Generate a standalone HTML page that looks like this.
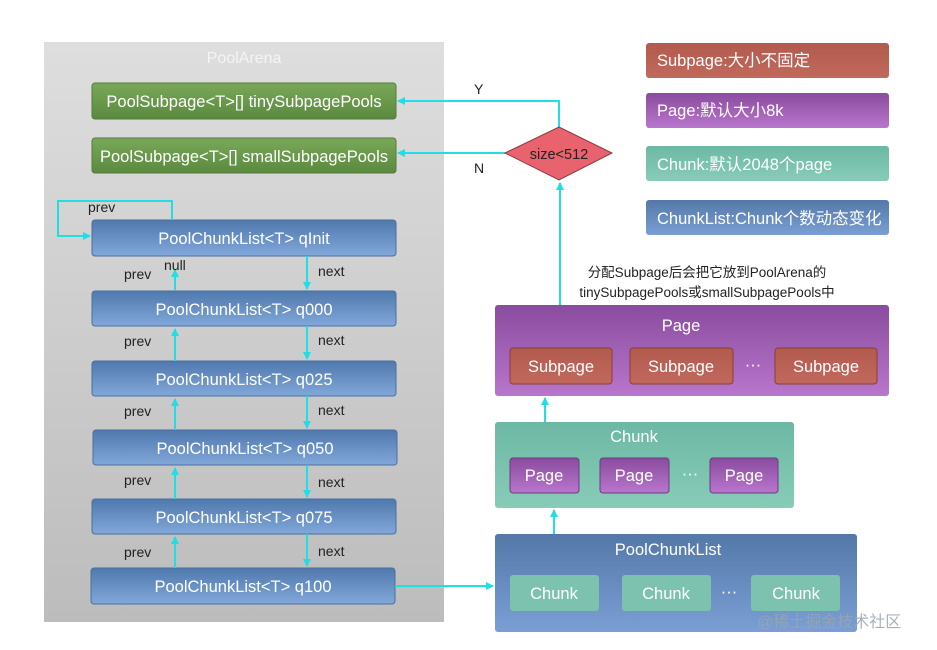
<!DOCTYPE html>
<html><head><meta charset="utf-8"><style>
html,body{margin:0;padding:0;background:#fff;width:937px;height:650px;overflow:hidden}
svg text{font-family:"Liberation Sans","Noto Sans CJK SC",sans-serif}
</style></head><body>
<svg width="937" height="650" viewBox="0 0 937 650" xmlns="http://www.w3.org/2000/svg">
<defs>
<linearGradient id="gray" x1="0" y1="0" x2="0" y2="1"><stop offset="0" stop-color="#dedede"/><stop offset="1" stop-color="#bcbcbc"/></linearGradient>
<linearGradient id="green" x1="0" y1="0" x2="0" y2="1"><stop offset="0" stop-color="#7aa85a"/><stop offset="1" stop-color="#5a8a3e"/></linearGradient>
<linearGradient id="blue" x1="0" y1="0" x2="0" y2="1"><stop offset="0" stop-color="#4f78ad"/><stop offset="1" stop-color="#82a8da"/></linearGradient>
<linearGradient id="red" x1="0" y1="0" x2="0" y2="1"><stop offset="0" stop-color="#b25a4e"/><stop offset="1" stop-color="#c0695c"/></linearGradient>
<linearGradient id="purple" x1="0" y1="0" x2="0" y2="1"><stop offset="0" stop-color="#8a4c9e"/><stop offset="1" stop-color="#b876cc"/></linearGradient>
<linearGradient id="teal" x1="0" y1="0" x2="0" y2="1"><stop offset="0" stop-color="#6cb8a4"/><stop offset="1" stop-color="#88ccb8"/></linearGradient>
<linearGradient id="bigblue" x1="0" y1="0" x2="0" y2="1"><stop offset="0" stop-color="#5378a8"/><stop offset="1" stop-color="#7b9fd4"/></linearGradient>
<marker id="ah" markerWidth="8" markerHeight="8" refX="7" refY="4" orient="auto" markerUnits="userSpaceOnUse"><path d="M0,0 L8,4 L0,8 z" fill="#22dde4"/></marker>
</defs>
<rect x="44" y="42" width="400" height="580" fill="url(#gray)"/>
<text x="244" y="63" font-size="16" fill="#f4f4f4" text-anchor="middle">PoolArena</text>
<g font-size="16.5" fill="#fff" text-anchor="middle">
<rect x="92" y="83" width="304" height="36" rx="3" fill="url(#green)" stroke="#567a3c"/>
<text x="244" y="107">PoolSubpage&lt;T&gt;[] tinySubpagePools</text>
<rect x="92" y="138" width="304" height="35" rx="3" fill="url(#green)" stroke="#567a3c"/>
<text x="244" y="162">PoolSubpage&lt;T&gt;[] smallSubpagePools</text>
<g>
<rect x="92" y="220" width="304" height="36" rx="3" fill="url(#blue)" stroke="#4b6fa0"/><text x="244" y="244">PoolChunkList&lt;T&gt; qInit</text>
<rect x="92" y="291" width="304" height="35" rx="3" fill="url(#blue)" stroke="#4b6fa0"/><text x="244" y="315">PoolChunkList&lt;T&gt; q000</text>
<rect x="92" y="361" width="304" height="35" rx="3" fill="url(#blue)" stroke="#4b6fa0"/><text x="244" y="385">PoolChunkList&lt;T&gt; q025</text>
<rect x="93" y="430" width="304" height="35" rx="3" fill="url(#blue)" stroke="#4b6fa0"/><text x="245" y="454">PoolChunkList&lt;T&gt; q050</text>
<rect x="92" y="499" width="304" height="35" rx="3" fill="url(#blue)" stroke="#4b6fa0"/><text x="244" y="523">PoolChunkList&lt;T&gt; q075</text>
<rect x="91" y="568" width="304" height="36" rx="3" fill="url(#blue)" stroke="#4b6fa0"/><text x="243" y="592">PoolChunkList&lt;T&gt; q100</text>
</g>
</g>
<g stroke="#22dde4" stroke-width="2" fill="none">
<path d="M172,220 V201 H58 V236 H90" marker-end="url(#ah)"/>
<path d="M175,290 V270" marker-end="url(#ah)"/>
<path d="M175,361 V329" marker-end="url(#ah)"/>
<path d="M175,430 V399" marker-end="url(#ah)"/>
<path d="M175,499 V468" marker-end="url(#ah)"/>
<path d="M175,568 V537" marker-end="url(#ah)"/>
<path d="M307,256 V289" marker-end="url(#ah)"/>
<path d="M307,326 V359" marker-end="url(#ah)"/>
<path d="M307,396 V428" marker-end="url(#ah)"/>
<path d="M307,465 V497" marker-end="url(#ah)"/>
<path d="M307,534 V566" marker-end="url(#ah)"/>
<path d="M395,586 H493" marker-end="url(#ah)"/>
<path d="M559,127 V101 H398" marker-end="url(#ah)"/>
<path d="M505,153 H398" marker-end="url(#ah)"/>
<path d="M560,348 V183" marker-end="url(#ah)"/>
<path d="M545,458 V398" marker-end="url(#ah)"/>
<path d="M554,575 V510" marker-end="url(#ah)"/>
</g>
<g font-size="14" fill="#222">
<text x="88" y="212">prev</text>
<text x="124" y="279">prev</text><text x="164" y="270">null</text><text x="318" y="276">next</text>
<text x="124" y="346">prev</text><text x="318" y="345">next</text>
<text x="124" y="416">prev</text><text x="318" y="415">next</text>
<text x="124" y="485">prev</text><text x="318" y="487">next</text>
<text x="124" y="557">prev</text><text x="318" y="556">next</text>
<text x="474" y="94">Y</text><text x="474" y="173">N</text>
</g>
<polygon points="505,153 559,127 612,153 559,180" fill="#e8636e" stroke="#8a3a40"/>
<text x="559" y="159" font-size="14.5" fill="#222" text-anchor="middle">size&lt;512</text>
<g font-size="16.5" fill="#fff">
<rect x="646" y="43" width="243" height="35" rx="3" fill="url(#red)"/><text x="657" y="66">Subpage:大小不固定</text>
<rect x="646" y="93" width="243" height="35" rx="3" fill="url(#purple)"/><text x="657" y="116">Page:默认大小8k</text>
<rect x="646" y="146" width="243" height="35" rx="3" fill="url(#teal)"/><text x="657" y="170">Chunk:默认2048个page</text>
<rect x="646" y="200" width="243" height="35" rx="3" fill="url(#bigblue)"/><text x="657" y="224">ChunkList:Chunk个数动态变化</text>
</g>
<g font-size="13.5" fill="#222" text-anchor="middle">
<text x="707" y="277">分配Subpage后会把它放到PoolArena的</text>
<text x="707" y="297">tinySubpagePools或smallSubpagePools中</text>
</g>
<g font-size="16.5" fill="#fff" text-anchor="middle">
<rect x="495" y="305" width="394" height="91" rx="3" fill="url(#purple)"/>
<text x="681" y="331">Page</text>
<rect x="510" y="348" width="102" height="36" rx="3" fill="url(#red)" stroke="#8c3e34"/><text x="561" y="372">Subpage</text>
<rect x="630" y="348" width="103" height="36" rx="3" fill="url(#red)" stroke="#8c3e34"/><text x="681" y="372">Subpage</text>
<text x="753" y="370">···</text>
<rect x="775" y="348" width="102" height="36" rx="3" fill="url(#red)" stroke="#8c3e34"/><text x="826" y="372">Subpage</text>
<rect x="495" y="422" width="299" height="86" rx="3" fill="url(#teal)"/>
<text x="634" y="442">Chunk</text>
<rect x="510" y="458" width="69" height="35" rx="3" fill="url(#purple)" stroke="#6e3a80"/><text x="544" y="481">Page</text>
<rect x="600" y="458" width="69" height="35" rx="3" fill="url(#purple)" stroke="#6e3a80"/><text x="634" y="481">Page</text>
<text x="690" y="479">···</text>
<rect x="710" y="458" width="68" height="35" rx="3" fill="url(#purple)" stroke="#6e3a80"/><text x="744" y="481">Page</text>
<rect x="495" y="534" width="362" height="98" rx="3" fill="url(#bigblue)"/>
<text x="668" y="555">PoolChunkList</text>
<rect x="510" y="575" width="89" height="36" rx="3" fill="#7cc2ae"/><text x="554" y="599">Chunk</text>
<rect x="622" y="575" width="89" height="36" rx="3" fill="#7cc2ae"/><text x="666" y="599">Chunk</text>
<text x="729" y="597">···</text>
<rect x="751" y="575" width="89" height="36" rx="3" fill="#7cc2ae"/><text x="796" y="599">Chunk</text>
</g>
<text x="757" y="627" font-size="16" fill="#9aa4b0" opacity="0.85">@稀土掘金技术社区</text>
</svg>
</body></html>
